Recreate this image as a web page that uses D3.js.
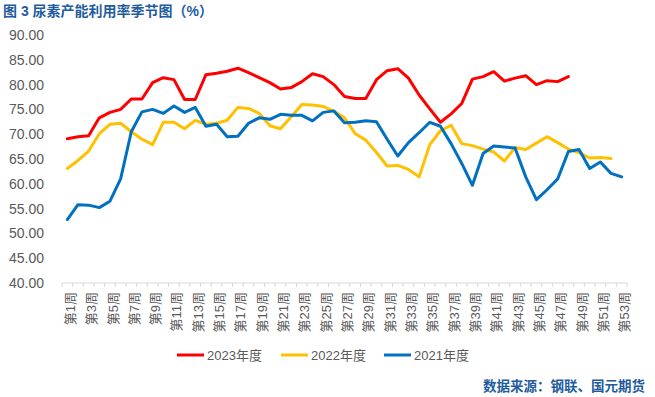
<!doctype html>
<html>
<head>
<meta charset="utf-8">
<title>尿素产能利用率季节图</title>
<script src="https://cdnjs.cloudflare.com/ajax/libs/d3/7.8.5/d3.min.js"></script>
<style>
  body { margin: 0; background: #fff; }
  text { font-family: "Liberation Sans", "Noto Sans CJK SC", sans-serif; }
</style>
</head>
<body>
<div id="chart"></div>
<script>
// weeks 1..53
const weeks = d3.range(1, 54).map(i => "第" + i + "周");
const yTicks = [40, 45, 50, 55, 60, 65, 70, 75, 80, 85, 90];

const series2023 = [69.1, 69.5, 69.7, 73.3, 74.4, 75.0, 77.1, 77.1, 80.4, 81.4,
  81.0, 77.0, 77.0, 82.0, 82.3, 82.7, 83.3, 82.4, 81.4, 80.4,
  79.1, 79.4, 80.6, 82.2, 81.6, 80.0, 77.6, 77.2, 77.2, 81.0,
  82.8, 83.2, 81.3, 77.9, 75.1, 72.4, 74.1, 76.2, 81.1, 81.6,
  82.6, 80.7, 81.3, 81.8, 80.0, 80.8, 80.6, 81.6];
const series2022 = [63.1, 64.7, 66.6, 70.1, 72.0, 72.2, 70.5, 69.0, 67.9, 72.4,
  72.4, 71.1, 72.8, 72.0, 72.2, 72.8, 75.4, 75.2, 74.2, 71.7,
  71.1, 73.5, 76.0, 75.9, 75.6, 74.6, 73.3, 70.1, 68.8, 66.3,
  63.6, 63.7, 62.9, 61.4, 67.9, 70.7, 71.8, 68.1, 67.7, 67.0,
  66.4, 64.6, 67.3, 66.9, 68.2, 69.5, 68.3, 67.0, 66.3, 65.2,
  65.3, 65.1];
const series2021 = [52.8, 55.8, 55.7, 55.2, 56.5, 61.0, 70.5, 74.5, 75.0, 74.2,
  75.7, 74.4, 75.4, 71.6, 72.0, 69.5, 69.6, 72.2, 73.3, 73.0,
  74.0, 73.8, 73.8, 72.7, 74.4, 74.7, 72.3, 72.4, 72.7, 72.5,
  69.0, 65.6, 68.3, 70.3, 72.4, 71.6, 68.1, 64.1, 59.7, 66.1,
  67.6, 67.4, 67.2, 61.4, 56.8, 58.8, 61.0, 66.5, 66.9, 63.1,
  64.4, 62.1, 61.4];

const seriesNames = ["2023年度", "2022年度", "2021年度"];
const seriesColors = ["#FF0000", "#FFC000", "#0070C0"];
const allSeries = [series2023, series2022, series2021];

const W = 655, H = 397;
const svg = d3.select("#chart").append("svg")
  .attr("width", W).attr("height", H);

// title
svg.append("text")
  .attr("x", 3).attr("y", 16)
  .attr("fill", "#1F5C9E")
  .style("font-size", "14px").style("font-weight", "bold")
  .text("图 3  尿素产能利用率季节图（%）");

const x = d3.scaleBand().domain(weeks).range([62, 627]);
const y = d3.scaleLinear().domain([40, 90]).range([283, 35]);

// y labels
svg.append("g").selectAll("text")
  .data(yTicks).join("text")
  .attr("x", 44).attr("y", d => y(d))
  .attr("dy", "0.35em")
  .attr("text-anchor", "end")
  .attr("fill", "#595959")
  .style("font-size", "14px")
  .text(d => d.toFixed(2));

// x axis
const xAxis = svg.append("g").attr("transform", "translate(0," + y(40) + ")");
xAxis.append("line")
  .attr("x1", 62).attr("x2", 627)
  .attr("stroke", "#D9D9D9");
xAxis.selectAll("line.tick")
  .data(d3.range(0, weeks.length + 1)).join("line")
  .attr("class", "tick")
  .attr("x1", i => 62 + i * x.step()).attr("x2", i => 62 + i * x.step())
  .attr("y1", 0).attr("y2", 4)
  .attr("stroke", "#D9D9D9");
xAxis.selectAll("text")
  .data(weeks.filter((d, i) => i % 2 === 0)).join("text")
  .attr("transform", d => "translate(" + (x(d) + x.bandwidth() / 2 + 3) + ",9) rotate(-90)")
  .attr("dy", "0.35em")
  .attr("text-anchor", "end")
  .attr("fill", "#595959")
  .style("font-size", "13px")
  .text(d => d);

// lines
const line = d3.line()
  .x((d, i) => x(weeks[i]) + x.bandwidth() / 2)
  .y(d => y(d))
  .curve(d3.curveLinear);

svg.append("g").selectAll("path")
  .data(allSeries).join("path")
  .attr("d", d => line(d))
  .attr("fill", "none")
  .attr("stroke", (d, i) => seriesColors[i])
  .attr("stroke-width", 3)
  .attr("stroke-linejoin", "round")
  .attr("stroke-linecap", "round");

// legend
const legendX = [177, 281, 384];
const legend = svg.append("g").selectAll("g")
  .data(seriesNames).join("g")
  .attr("transform", (d, i) => "translate(" + legendX[i] + ",355)");
legend.append("line")
  .attr("x1", 0).attr("x2", 27)
  .attr("stroke", (d, i) => seriesColors[i])
  .attr("stroke-width", 3);
legend.append("text")
  .attr("x", 30).attr("dy", "0.35em")
  .attr("fill", "#595959")
  .style("font-size", "13px")
  .text(d => d);

// source
svg.append("text")
  .attr("x", 645).attr("y", 391)
  .attr("text-anchor", "end")
  .attr("fill", "#1F5C9E")
  .style("font-size", "13.5px").style("font-weight", "bold")
  .text("数据来源：钢联、国元期货");
</script>
</body>
</html>
